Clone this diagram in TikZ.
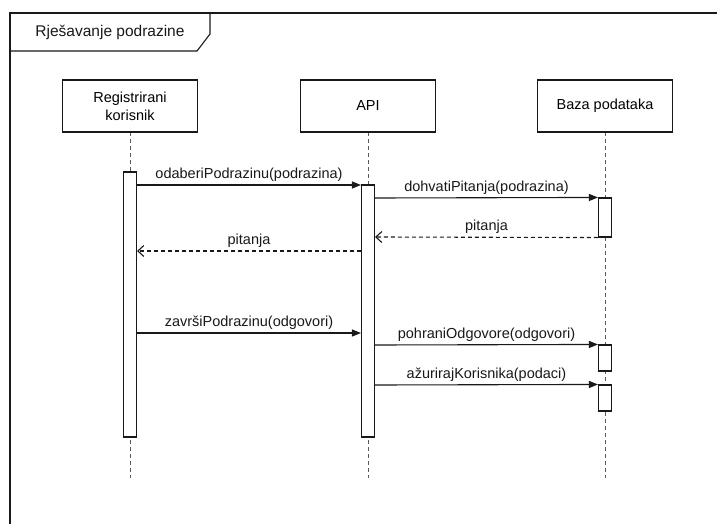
\documentclass[tikz,border=0pt]{standalone}
\usepackage{fontspec}
\setmainfont{Liberation Sans}
\usetikzlibrary{arrows.meta}
\begin{document}
\begin{tikzpicture}[x=1pt,y=-1pt,
  lw/.style={line width=1.1pt, draw=black!90},
  headbox/.style={lw, fill=white, minimum width=135pt, minimum height=52pt, align=center, inner sep=0pt, font=\fontsize{14.5}{18}\selectfont},
  actbar/.style={lw, fill=white, minimum width=13pt, inner sep=0pt},
  lifeline/.style={draw=black!65, line width=1pt, dash pattern=on 4pt off 3pt},
  msg/.style={lw, -{Triangle[length=9pt,width=7pt]}},
  ret/.style={lw, dash pattern=on 4pt off 3pt, -{Straight Barb[length=6pt,width=11pt]}},
  lbl/.style={font=\fontsize{14.5}{17}\selectfont, inner sep=1pt, text=black!90}
]
\useasboundingbox (0,0) rectangle (717,524);
\fill[white] (0,0) rectangle (717,524);
% frame
\draw[lw] (717,13) -- (10,13) -- (10,524);
\draw[lw] (10,51) -- (197,51) -- (210,34) -- (210,13);
\node[font=\fontsize{15.5}{18}\selectfont, text=black!90] (title) at (110,32) {Rješavanje podrazine};

% lifelines
\coordinate (e1) at (130,478);
\coordinate (e2) at (368,478);
\coordinate (e3) at (605,478);
\draw[lifeline] (130,132) -- (e1);
\draw[lifeline] (368,132) -- (e2);
\draw[lifeline] (605,132) -- (e3);

% heads
\node[headbox] (h1) at (130,106) {Registrirani\\korisnik};
\node[headbox] (h2) at (368,106) {API};
\node[headbox] (h3) at (605,106) {Baza podataka};

% activation bars
\node[actbar, minimum height=265pt] (a1) at (130,304.5) {};
\node[actbar, minimum height=252pt] (a2) at (368,311) {};
\node[actbar, minimum height=39pt] (b1) at (605,217.5) {};
\node[actbar, minimum height=26pt] (b2) at (605,358) {};
\node[actbar, minimum height=26pt] (b3) at (605,398) {};

% messages
\draw[msg] (a1.east |- 0,185) -- node[lbl, above=2pt] (m1) {odaberiPodrazinu(podrazina)} (a2.west |- 0,185);
\draw[msg] (a2.east |- 0,198) -- node[lbl, above=2pt] (m2) {dohvatiPitanja(podrazina)} (b1.north west);
\draw[ret] (b1.south west) -- node[lbl, above=2pt] (m3) {pitanja} (a2.east |- 0,237);
\draw[ret] (a2.west |- 0,251) -- node[lbl, above=2pt] (m4) {pitanja} (a1.east |- 0,251);
\draw[msg] (a1.east |- 0,333) -- node[lbl, above=2pt] (m5) {završiPodrazinu(odgovori)} (a2.west |- 0,333);
\draw[msg] (a2.east |- 0,345) -- node[lbl, above=2pt] (m6) {pohraniOdgovore(odgovori)} (b2.north west);
\draw[msg] (a2.east |- 0,385) -- node[lbl, above=2pt] (m7) {ažurirajKorisnika(podaci)} (b3.north west);
\end{tikzpicture}
\end{document}
